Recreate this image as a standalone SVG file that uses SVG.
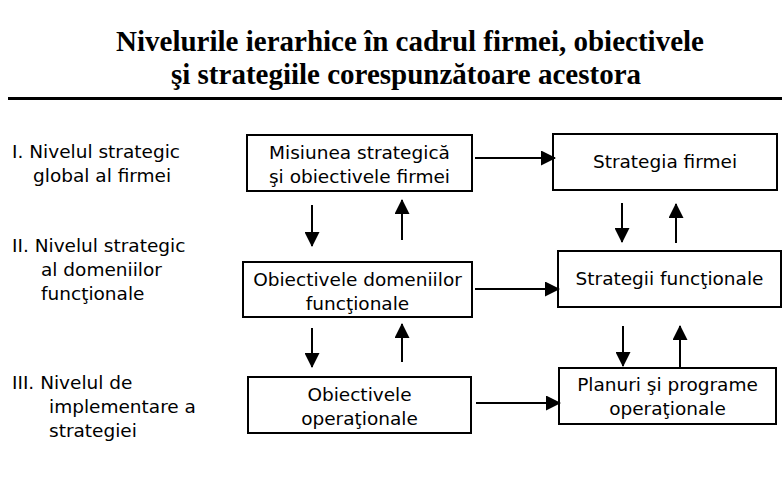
<svg xmlns="http://www.w3.org/2000/svg" width="782" height="480" viewBox="0 0 782 480">
  <style>
    .title { font-family: "Liberation Serif", "Times New Roman", serif; font-weight: bold; font-size: 29px; fill: #000; text-anchor: middle; }
    .lbl { font-family: "DejaVu Sans", Verdana, sans-serif; font-size: 18.5px; fill: #000; }
    .box rect { fill: #fff; stroke: #000; stroke-width: 2; }
    .box text { font-family: "DejaVu Sans", Verdana, sans-serif; font-size: 18.5px; fill: #000; text-anchor: middle; }
    .conn line { stroke: #000; stroke-width: 2; }
  </style>
  <defs>
    <marker id="head" viewBox="0 0 15 15" refX="14" refY="7.5" markerWidth="15" markerHeight="15" markerUnits="userSpaceOnUse" orient="auto">
      <path d="M0,0 L15,7.5 L0,15 Z" fill="#000"/>
    </marker>
  </defs>

  <rect width="782" height="480" fill="#fff"/>

  <!-- heading -->
  <text class="title" x="410" y="51">Nivelurile ierarhice în cadrul firmei, obiectivele</text>
  <text class="title" x="406" y="84">şi strategiile corespunzătoare acestora</text>
  <line x1="8" y1="98.5" x2="782" y2="98.5" stroke="#000" stroke-width="3"/>

  <!-- level labels -->
  <g id="level-1" class="lbl">
    <text x="12" y="158">I. Nivelul strategic</text>
    <text x="33" y="182">global al firmei</text>
  </g>
  <g id="level-2" class="lbl">
    <text x="12" y="252">II. Nivelul strategic</text>
    <text x="41" y="276">al domeniilor</text>
    <text x="41" y="300">funcţionale</text>
  </g>
  <g id="level-3" class="lbl">
    <text x="12" y="389">III. Nivelul de</text>
    <text x="49" y="413">implementare a</text>
    <text x="49" y="437">strategiei</text>
  </g>

  <!-- objectives column -->
  <g id="misiunea" class="box">
    <rect x="247" y="135" width="225" height="56"/>
    <text x="359.5" y="159">Misiunea strategică</text>
    <text x="359.5" y="183">şi obiectivele firmei</text>
  </g>
  <g id="obiective-functionale" class="box">
    <rect x="243" y="262" width="229" height="55"/>
    <text x="357.5" y="286">Obiectivele domeniilor</text>
    <text x="357.5" y="310">funcţionale</text>
  </g>
  <g id="obiective-operationale" class="box">
    <rect x="248" y="377" width="223" height="56"/>
    <text x="359.5" y="401">Obiectivele</text>
    <text x="359.5" y="425">operaţionale</text>
  </g>

  <!-- strategies column -->
  <g id="strategia-firmei" class="box">
    <rect x="553" y="134" width="224" height="56"/>
    <text x="665" y="168">Strategia firmei</text>
  </g>
  <g id="strategii-functionale" class="box">
    <rect x="558" y="251" width="223" height="56"/>
    <text x="669.5" y="285">Strategii funcţionale</text>
  </g>
  <g id="planuri" class="box">
    <rect x="559" y="368" width="217" height="56"/>
    <text x="667.5" y="391">Planuri şi programe</text>
    <text x="667.5" y="415">operaţionale</text>
  </g>

  <!-- connectors -->
  <g id="connectors" class="conn">
    <line x1="475" y1="158" x2="555" y2="158" marker-end="url(#head)"/>
    <line x1="475" y1="289" x2="559" y2="289" marker-end="url(#head)"/>
    <line x1="476" y1="403" x2="560" y2="403" marker-end="url(#head)"/>

    <line x1="312" y1="205" x2="312" y2="246" marker-end="url(#head)"/>
    <line x1="402" y1="240" x2="402" y2="200" marker-end="url(#head)"/>
    <line x1="312" y1="328" x2="312" y2="367" marker-end="url(#head)"/>
    <line x1="402" y1="362" x2="402" y2="324" marker-end="url(#head)"/>

    <line x1="622" y1="203" x2="622" y2="242" marker-end="url(#head)"/>
    <line x1="676" y1="243" x2="676" y2="204" marker-end="url(#head)"/>
    <line x1="623" y1="326" x2="623" y2="366" marker-end="url(#head)"/>
    <line x1="680" y1="368" x2="680" y2="326" marker-end="url(#head)"/>
  </g>
</svg>
